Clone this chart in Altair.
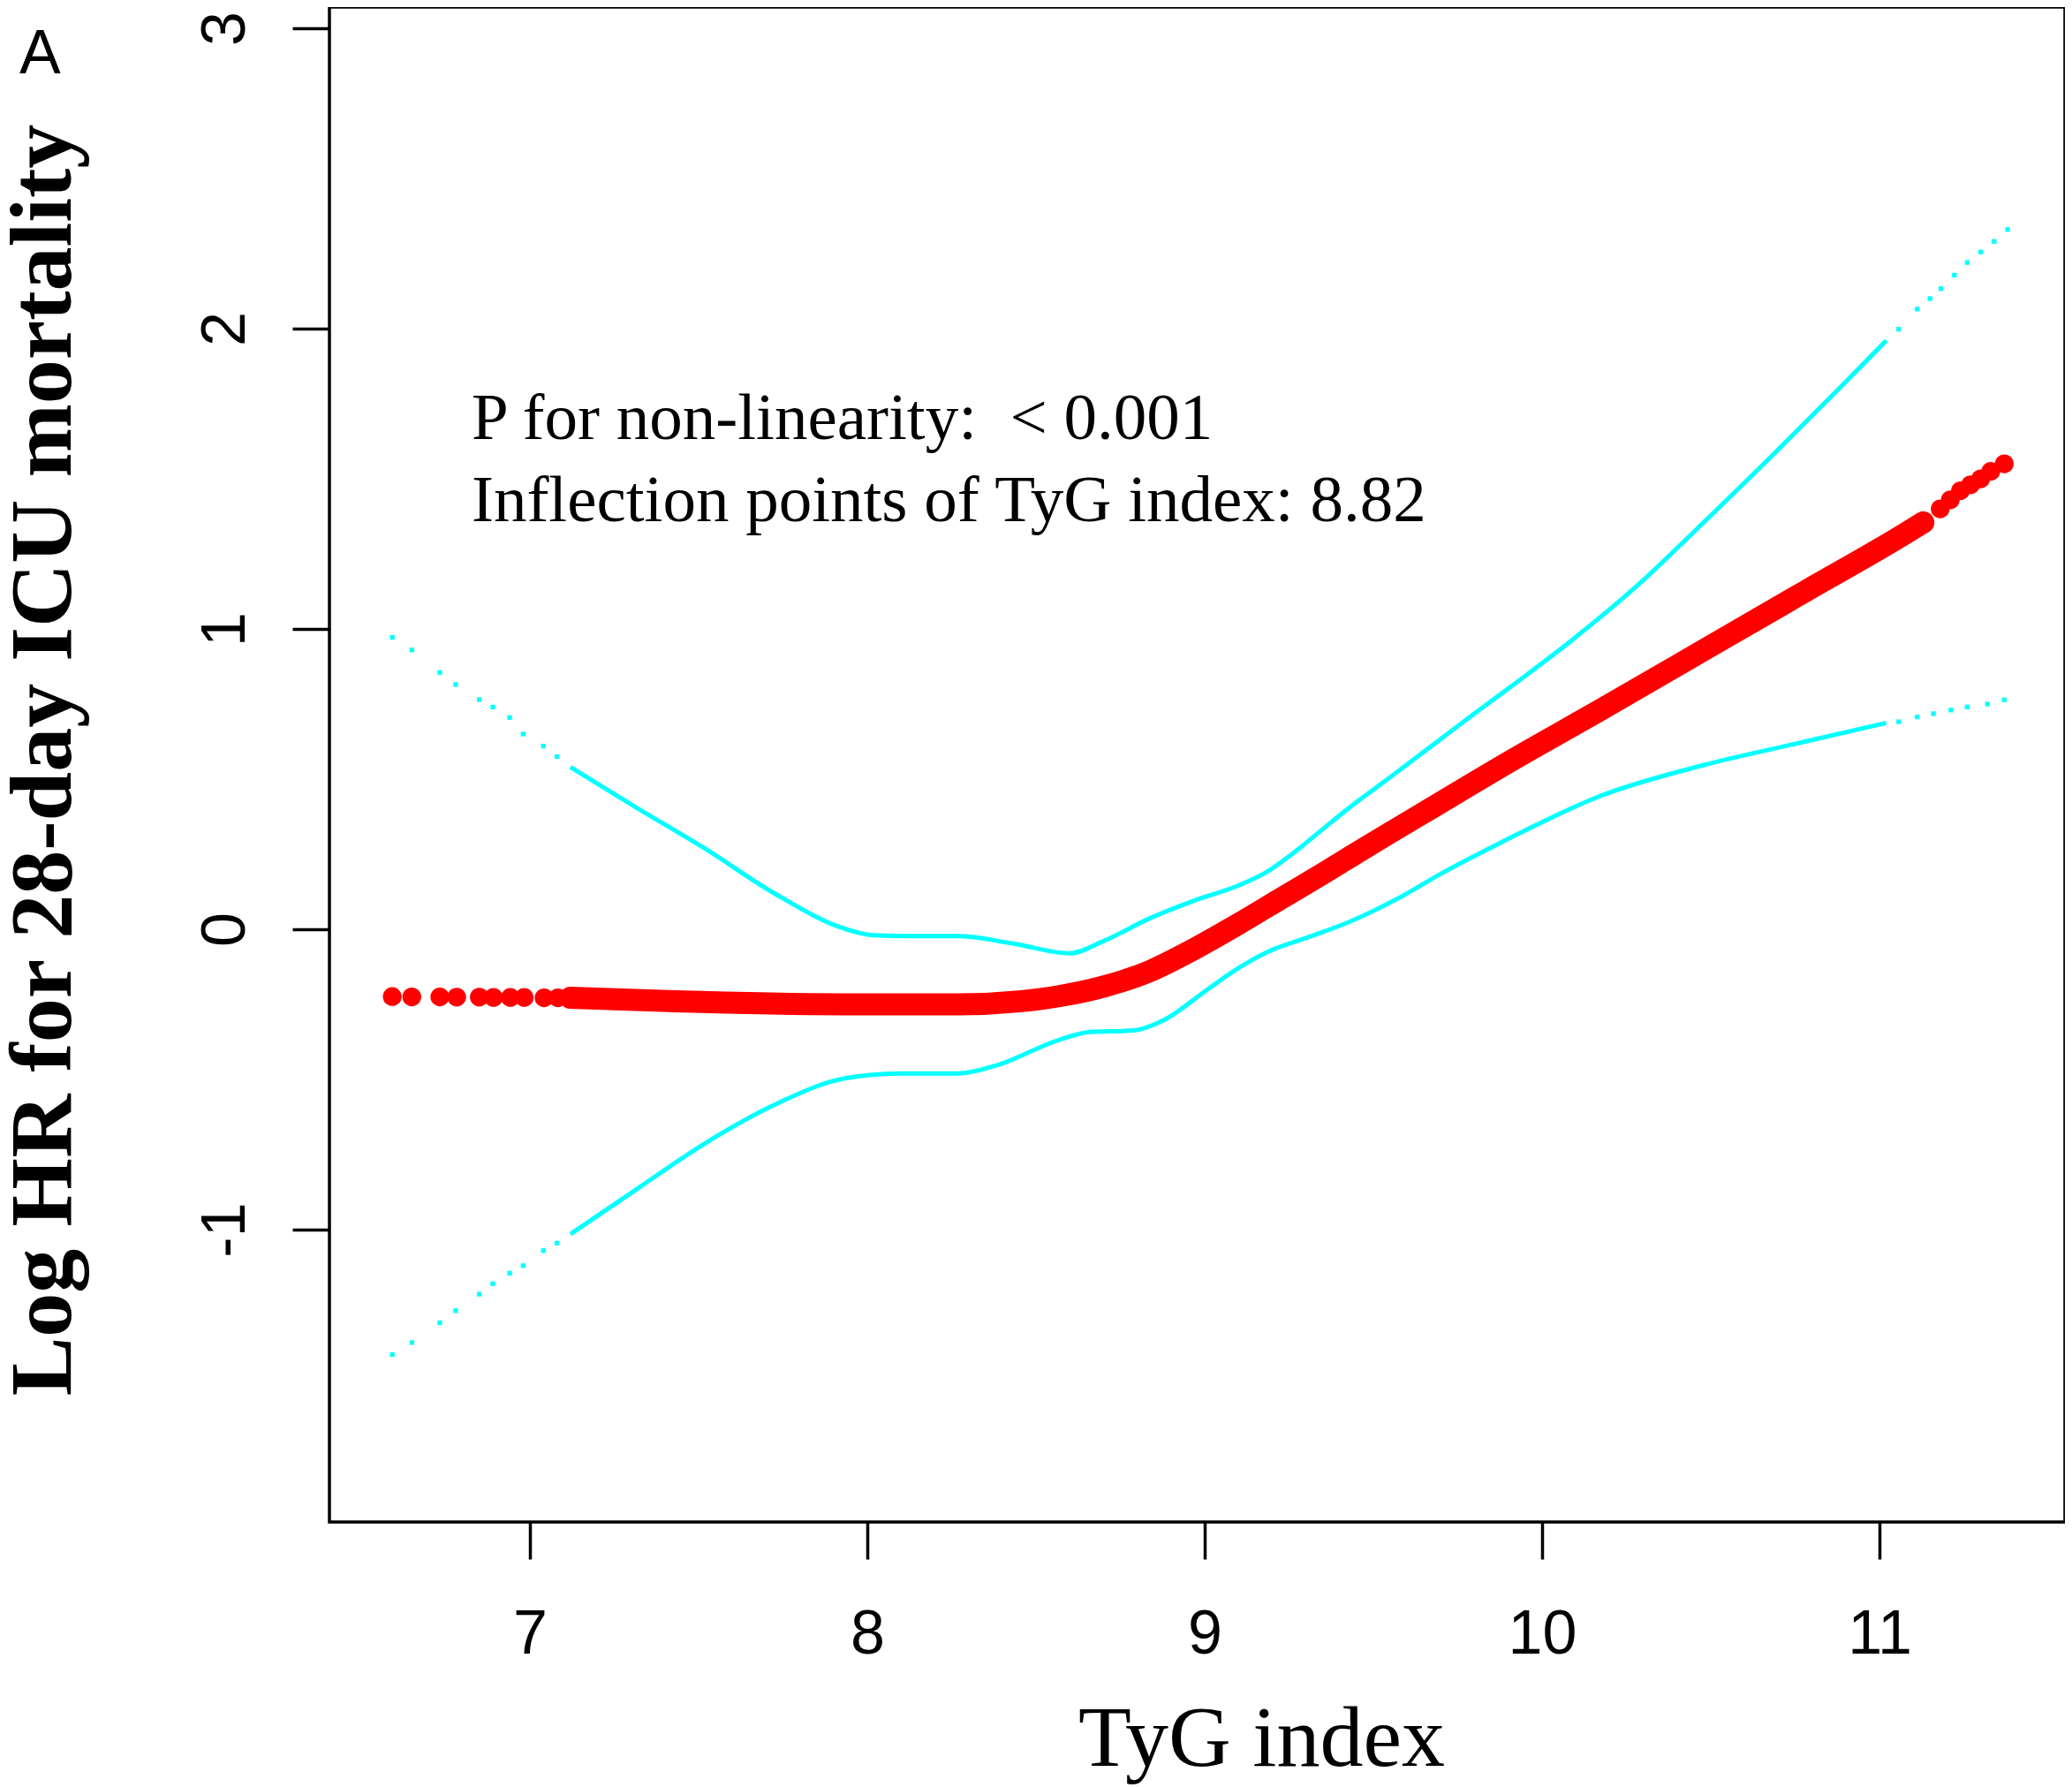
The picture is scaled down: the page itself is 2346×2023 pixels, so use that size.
import altair as alt
import pandas as pd

# ---- data ----
# red estimate curve (dense, continuous part)
fit_x = [7.12, 7.43, 7.93, 8.27, 8.45, 8.572, 8.703, 8.834, 8.965, 9.096, 9.227, 9.357, 9.488,
         9.619, 9.75, 9.88, 10.18, 10.48, 10.78, 11.08, 11.13]
fit_y = [-0.228, -0.24, -0.25, -0.25, -0.24, -0.222, -0.19, -0.141, -0.068, 0.015, 0.103, 0.19, 0.28,
         0.368, 0.456, 0.543, 0.735, 0.93, 1.125, 1.32, 1.355]
# red estimate curve (sparse individual points at both ends)
dot_x = [6.592, 6.65, 6.733, 6.783, 6.85, 6.892, 6.942, 6.983, 7.042, 7.083,
         11.18, 11.21, 11.24, 11.27, 11.30, 11.33, 11.37]
dot_y = [-0.224, -0.225, -0.225, -0.226, -0.226, -0.227, -0.227, -0.227, -0.228, -0.228,
         1.40, 1.43, 1.46, 1.48, 1.50, 1.525, 1.55]

# upper 95% CI (continuous part)
upper_x = [7.12, 7.317, 7.517, 7.733, 7.93, 8.02, 8.15, 8.27, 8.43, 8.6, 8.703, 8.834, 8.965, 9.096,
           9.183, 9.27, 9.357, 9.44, 9.53, 9.66, 9.79, 9.88, 10.08, 10.28, 10.48, 10.68, 10.88, 11.02]
upper_y = [0.54, 0.404, 0.27, 0.114, 0.003, -0.02, -0.023, -0.023, -0.047, -0.08, -0.038, 0.035, 0.094,
           0.144, 0.19, 0.26, 0.34, 0.415, 0.49, 0.60, 0.71, 0.785, 0.955, 1.142, 1.356, 1.575, 1.80, 1.96]
# lower 95% CI (continuous part)
lower_x = [7.12, 7.317, 7.517, 7.733, 7.93, 8.1, 8.27, 8.38, 8.572, 8.66, 8.79, 8.878, 9.009, 9.096,
           9.183, 9.313, 9.44, 9.575, 9.705, 9.88, 10.18, 10.48, 10.78, 11.02]
lower_y = [-1.015, -0.865, -0.714, -0.58, -0.497, -0.48, -0.48, -0.454, -0.367, -0.342, -0.337, -0.303,
           -0.2, -0.132, -0.077, -0.024, 0.03, 0.104, 0.188, 0.29, 0.447, 0.547, 0.625, 0.687]

# sparse CI points at both ends
up_sp_x = [6.592, 6.65, 6.733, 6.78, 6.85, 6.89, 6.94, 6.98, 7.04, 7.08,
           11.057, 11.112, 11.15, 11.182, 11.222, 11.26, 11.30, 11.34, 11.38]
up_sp_y = [0.972, 0.93, 0.855, 0.815, 0.765, 0.74, 0.705, 0.65, 0.61, 0.575,
           1.998, 2.065, 2.10, 2.133, 2.178, 2.22, 2.255, 2.29, 2.33]
lo_sp_x = [6.592, 6.65, 6.733, 6.78, 6.85, 6.89, 6.94, 6.98, 7.04, 7.08,
           11.057, 11.112, 11.16, 11.212, 11.26, 11.32, 11.37]
lo_sp_y = [-1.416, -1.376, -1.31, -1.27, -1.215, -1.18, -1.145, -1.12, -1.07, -1.045,
           0.691, 0.707, 0.718, 0.73, 0.74, 0.75, 0.764]

x_ticks = [7, 8, 9, 10, 11]
y_ticks = [-1, 0, 1, 2, 3]

ann_text = ["P for non-linearity:\u00a0 < 0.001", "Inflection points of TyG index: 8.82"]
ann_x = [6.827, 6.827]
ann_y = [1.632, 1.359]

panel_label = "A"

# ---- frames ----
df_fit = pd.DataFrame({"x": fit_x, "y": fit_y})
df_dot = pd.DataFrame({"x": dot_x, "y": dot_y})
df_ci = pd.concat([
    pd.DataFrame({"x": upper_x, "y": upper_y, "band": "upper"}),
    pd.DataFrame({"x": lower_x, "y": lower_y, "band": "lower"}),
])
df_ci_sp = pd.DataFrame({"x": up_sp_x + lo_sp_x, "y": up_sp_y + lo_sp_y})
df_ann = pd.DataFrame({"x": ann_x, "y": ann_y, "t": ann_text})
df_lab = pd.DataFrame({"t": [panel_label]})

x_enc = alt.X(
    "x:Q",
    scale=alt.Scale(domain=[6.4058, 11.5497], nice=False, zero=False),
    axis=alt.Axis(
        values=x_ticks, grid=False, domain=False,
        tickSize=42, tickWidth=3.5, tickColor="black",
        labelFont="Liberation Sans", labelFontSize=70, labelColor="black",
        labelBaseline="alphabetic", labelPadding=106,
        title="TyG index", titleFont="Liberation Serif", titleFontSize=98,
        titleFontWeight="normal", titleColor="black",
        titleX=1055, titleY=275, titleAlign="center", titleBaseline="alphabetic",
    ),
)
y_enc = alt.Y(
    "y:Q",
    scale=alt.Scale(domain=[-1.9735, 3.0706], nice=False, zero=False),
    axis=alt.Axis(
        values=y_ticks, grid=False, domain=False,
        tickSize=42, tickWidth=3.5, tickColor="black",
        labelFont="Liberation Sans", labelFontSize=70, labelColor="black",
        labelAngle=270, labelAlign="center", labelBaseline="alphabetic", labelPadding=55,
        labelExpr="'' + datum.value",
        title="Log HR for 28-day ICU mortality", titleFont="Liberation Serif",
        titleFontSize=100, titleFontWeight="bold", titleColor="black",
        titleAngle=270, titleX=-294, titleY=852, titleAlign="center", titleBaseline="alphabetic",
    ),
)

ci_lines = alt.Chart(df_ci).mark_line(color="#00FFFF", strokeWidth=5, interpolate="monotone").encode(
    x=x_enc, y=y_enc, detail="band:N"
)
ci_pts = alt.Chart(df_ci_sp).mark_square(color="#00FFFF", size=28, opacity=1).encode(x=x_enc, y=y_enc)
fit_line = alt.Chart(df_fit).mark_line(
    color="#FF0000", strokeWidth=25, strokeCap="round", interpolate="monotone"
).encode(x=x_enc, y=y_enc)
fit_dots = alt.Chart(df_dot).mark_circle(color="#FF0000", size=452, opacity=1).encode(x=x_enc, y=y_enc)
ann = alt.Chart(df_ann).mark_text(
    font="Liberation Serif", fontSize=75, align="left", baseline="alphabetic", color="black"
).encode(x=x_enc, y=y_enc, text="t:N")
lab = alt.Chart(df_lab).mark_text(
    font="Liberation Sans", fontSize=70, align="left", baseline="alphabetic", color="black"
).encode(x=alt.value(-351), y=alt.value(75), text="t:N")

chart = alt.layer(ci_lines, ci_pts, fit_line, fit_dots, ann, lab).properties(
    width=1965, height=1715,
    autosize=alt.AutoSizeParams(type="none"),
    padding={"left": 365, "top": 0, "right": 0, "bottom": 300},
    background="white",
).configure_view(stroke="black", strokeWidth=3.5)

chart.save("out.html", embed_options={"renderer": "svg", "actions": False})
